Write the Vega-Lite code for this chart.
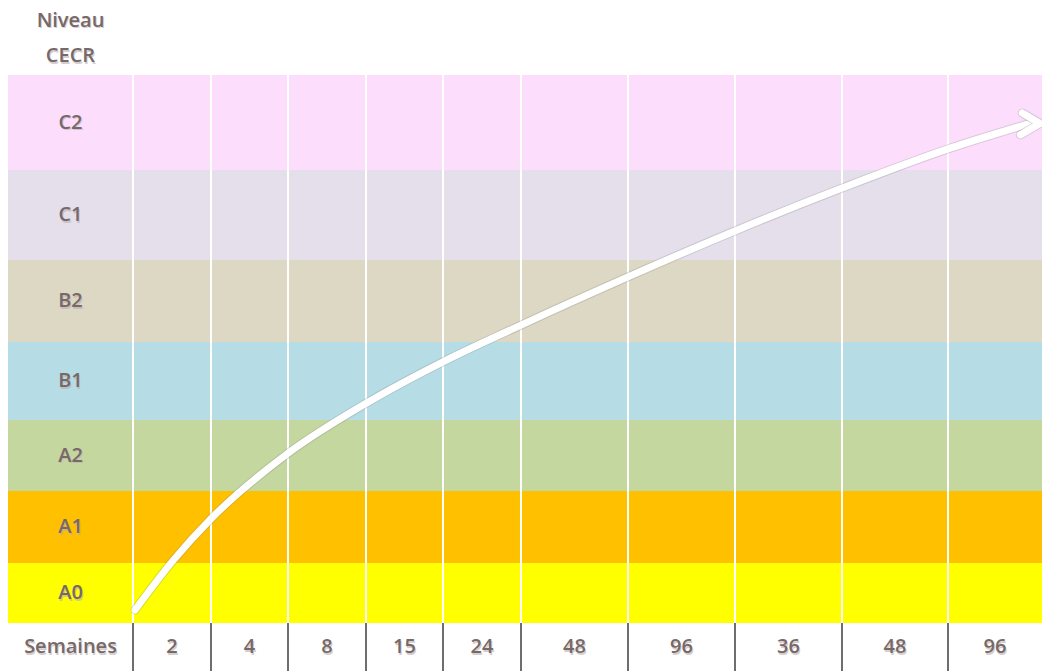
{
  "$schema": "https://vega.github.io/schema/vega-lite/v6.json",
  "width": 1042,
  "height": 671,
  "padding": 0,
  "autosize": {"type": "none"},
  "background": "white",
  "config": {"view": {"stroke": null}, "text": {"font": "Open Sans", "fontWeight": 600, "color": "#786868"}},
  "datasets": {
    "bands": [
      {"niveau": "A0", "lo": 0, "hi": 1, "mid": 0.5},
      {"niveau": "A1", "lo": 1, "hi": 2, "mid": 1.5},
      {"niveau": "A2", "lo": 2, "hi": 3, "mid": 2.5},
      {"niveau": "B1", "lo": 3, "hi": 4, "mid": 3.5},
      {"niveau": "B2", "lo": 4, "hi": 5, "mid": 4.5},
      {"niveau": "C1", "lo": 5, "hi": 6, "mid": 5.5},
      {"niveau": "C2", "lo": 6, "hi": 7, "mid": 6.5}
    ],
    "cols": [
      {"col": 1, "mid": 1.5, "semaines": "2"},
      {"col": 2, "mid": 2.5, "semaines": "4"},
      {"col": 3, "mid": 3.5, "semaines": "8"},
      {"col": 4, "mid": 4.5, "semaines": "15"},
      {"col": 5, "mid": 5.5, "semaines": "24"},
      {"col": 6, "mid": 6.5, "semaines": "48"},
      {"col": 7, "mid": 7.5, "semaines": "96"},
      {"col": 8, "mid": 8.5, "semaines": "36"},
      {"col": 9, "mid": 9.5, "semaines": "48"},
      {"col": 10, "mid": 10.5, "semaines": "96"}
    ],
    "curve": [
      {"t": 1.026, "niv": 0.217},
      {"t": 1.513, "niv": 1.033},
      {"t": 2, "niv": 1.614},
      {"t": 3, "niv": 2.531},
      {"t": 4, "niv": 3.213},
      {"t": 5, "niv": 3.746},
      {"t": 6, "niv": 4.206},
      {"t": 7, "niv": 4.794},
      {"t": 8, "niv": 5.323},
      {"t": 9, "niv": 5.799},
      {"t": 10, "niv": 6.222},
      {"t": 10.926, "niv": 6.506}
    ],
    "head": [
      {"o": 0, "t": 10.79, "niv": 6.6},
      {"o": 1, "t": 10.98, "niv": 6.49},
      {"o": 2, "t": 10.77, "niv": 6.37}
    ]
  },
  "encoding": {},
  "layer": [
    {
      "data": {"name": "bands"},
      "mark": {"type": "rect"},
      "encoding": {
        "x": {"datum": 0, "type": "quantitative", "axis": null,
          "scale": {"domain": [0,1,2,3,4,5,6,7,8,9,10,11], "range": [8,133,211,288,366,443,521,628,735,842,948,1042], "zero": false, "nice": false}},
        "x2": {"datum": 11},
        "y": {"field": "lo", "type": "quantitative", "axis": null,
          "scale": {"domain": [0,1,2,3,4,5,6,7], "range": [623,563,491,420,342,260,170,75], "zero": false, "nice": false}},
        "y2": {"field": "hi"},
        "color": {"field": "niveau", "type": "nominal", "legend": null,
          "scale": {"domain": ["A0","A1","A2","B1","B2","C1","C2"], "range": ["#ffff00","#ffc000","#c4d79f","#b6dde6","#dcd8c4","#e4dfeb","#fcdefc"]}}
      }
    },
    {
      "data": {"name": "cols"},
      "mark": {"type": "rule", "color": "#ffffff", "strokeWidth": 2},
      "encoding": {
        "x": {"field": "col", "type": "quantitative"},
        "y": {"datum": 0},
        "y2": {"datum": 7}
      }
    },
    {
      "data": {"name": "cols"},
      "mark": {"type": "rule", "color": "#6e6e6e", "strokeWidth": 2},
      "encoding": {
        "x": {"field": "col", "type": "quantitative"},
        "y": {"datum": 0},
        "y2": {"datum": -0.8}
      }
    },
    {
      "data": {"name": "bands"},
      "mark": {"type": "text", "fontSize": 20, "dx": 1, "dy": 1.5, "color": "#b9b0b0", "opacity": 0.6},
      "encoding": {
        "x": {"datum": 0.5},
        "y": {"field": "mid", "type": "quantitative"},
        "text": {"field": "niveau"}
      }
    },
    {
      "data": {"name": "bands"},
      "mark": {"type": "text", "fontSize": 20},
      "encoding": {
        "x": {"datum": 0.5},
        "y": {"field": "mid", "type": "quantitative"},
        "text": {"field": "niveau"}
      }
    },
    {
      "data": {"name": "cols"},
      "mark": {"type": "text", "fontSize": 20, "dx": 1, "dy": 1.5, "color": "#b9b0b0", "opacity": 0.6},
      "encoding": {
        "x": {"field": "mid", "type": "quantitative"},
        "y": {"datum": -0.4},
        "text": {"field": "semaines"}
      }
    },
    {
      "data": {"name": "cols"},
      "mark": {"type": "text", "fontSize": 20},
      "encoding": {
        "x": {"field": "mid", "type": "quantitative"},
        "y": {"datum": -0.4},
        "text": {"field": "semaines"}
      }
    },
    {
      "data": {"values": [{"label": "Semaines", "lev": -0.4}, {"label": "Niveau", "lev": 7.57}, {"label": "CECR", "lev": 7.2}]},
      "mark": {"type": "text", "fontSize": 20, "dx": 1, "dy": 1.5, "color": "#b9b0b0", "opacity": 0.6},
      "encoding": {
        "x": {"datum": 0.5},
        "y": {"field": "lev", "type": "quantitative"},
        "text": {"field": "label"}
      }
    },
    {
      "data": {"values": [{"label": "Semaines", "lev": -0.4}, {"label": "Niveau", "lev": 7.57}, {"label": "CECR", "lev": 7.2}]},
      "mark": {"type": "text", "fontSize": 20},
      "encoding": {
        "x": {"datum": 0.5},
        "y": {"field": "lev", "type": "quantitative"},
        "text": {"field": "label"}
      }
    },
    {
      "data": {"name": "curve"},
      "mark": {"type": "line", "interpolate": "monotone", "color": "#8a8a8a", "strokeWidth": 9, "opacity": 0.3, "strokeCap": "round"},
      "encoding": {
        "x": {"field": "t", "type": "quantitative"},
        "y": {"field": "niv", "type": "quantitative"}
      }
    },
    {
      "data": {"name": "curve"},
      "mark": {"type": "line", "interpolate": "monotone", "color": "#ffffff", "strokeWidth": 7, "strokeCap": "round"},
      "encoding": {
        "x": {"field": "t", "type": "quantitative"},
        "y": {"field": "niv", "type": "quantitative"}
      }
    },
    {
      "data": {"name": "head"},
      "mark": {"type": "line", "color": "#8a8a8a", "strokeWidth": 9, "opacity": 0.3, "strokeCap": "round", "strokeJoin": "round"},
      "encoding": {
        "x": {"field": "t", "type": "quantitative"},
        "y": {"field": "niv", "type": "quantitative"},
        "order": {"field": "o"}
      }
    },
    {
      "data": {"name": "head"},
      "mark": {"type": "line", "color": "#ffffff", "strokeWidth": 7, "strokeCap": "round", "strokeJoin": "round"},
      "encoding": {
        "x": {"field": "t", "type": "quantitative"},
        "y": {"field": "niv", "type": "quantitative"},
        "order": {"field": "o"}
      }
    }
  ]
}
